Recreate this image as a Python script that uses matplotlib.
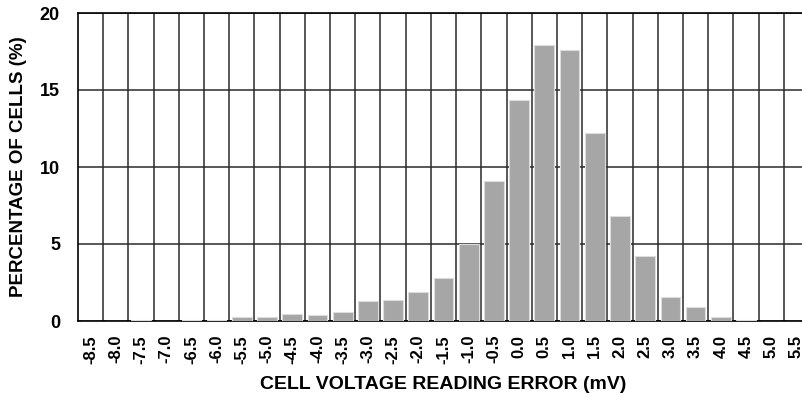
import matplotlib.pyplot as plt
import numpy as np

plt.rcParams['font.family'] = ['Liberation Sans', 'DejaVu Sans']
plt.rcParams['font.weight'] = 'bold'

# bin centres (mV) and share of cells in each bin (%)
error_mv = [-8.5, -8.0, -7.5, -7.0, -6.5, -6.0, -5.5, -5.0, -4.5, -4.0,
            -3.5, -3.0, -2.5, -2.0, -1.5, -1.0, -0.5, 0.0, 0.5, 1.0,
            1.5, 2.0, 2.5, 3.0, 3.5, 4.0, 4.5, 5.0, 5.5]
pct_cells = [0.0, 0.0, 0.05, 0.0, 0.05, 0.05, 0.25, 0.25, 0.43, 0.4,
             0.56, 1.3, 1.36, 1.86, 2.77, 5.03, 9.12, 14.33, 17.9, 17.62,
             12.23, 6.84, 4.22, 1.56, 0.89, 0.24, 0.05, 0.0, 0.0]
tick_labels = ["%.1f" % v for v in error_mv]

fig = plt.figure(figsize=(8.03, 4.03), dpi=100)
# axes runs a little past the right edge, like the cropped original
ax = fig.add_axes([78 / 803, 1 - 321 / 403, 731 / 803, 308 / 403])

x = np.arange(len(error_mv))
ax.bar(x, pct_cells, width=0.78, color='#a6a6a6', edgecolor='#dcdcdc',
       linewidth=0.8, zorder=3)

ax.set_xlim(-0.5, len(error_mv) - 0.5)
ax.set_ylim(0, 20)
ax.set_yticks([0, 5, 10, 15, 20])
ax.set_xticks(x)
ax.set_xticklabels(tick_labels, rotation=90, fontsize=12, fontweight='bold')
ax.set_xticks(x[:-1] + 0.5, minor=True)
ax.tick_params(axis='x', which='both', length=0, pad=10)
ax.tick_params(axis='y', length=0, pad=13, labelsize=13)
for lab in ax.get_yticklabels():
    lab.set_fontweight('bold')

# vertical grid lines sit between the bars
ax.grid(True, axis='x', which='minor', color='#2a2a2a', linewidth=1.1, zorder=1)
ax.grid(True, axis='y', which='major', color='#2a2a2a', linewidth=1.1, zorder=1)
ax.grid(False, axis='x', which='major')

for s in ax.spines.values():
    s.set_color('black')
    s.set_linewidth(1.2)

ax.set_xlabel("CELL VOLTAGE READING ERROR (mV)", fontsize=14,
              fontweight='bold', labelpad=9)
ax.set_ylabel("PERCENTAGE OF CELLS (%)", fontsize=13.5, fontweight='bold',
              labelpad=9)

fig.savefig("out.png", dpi=100)
